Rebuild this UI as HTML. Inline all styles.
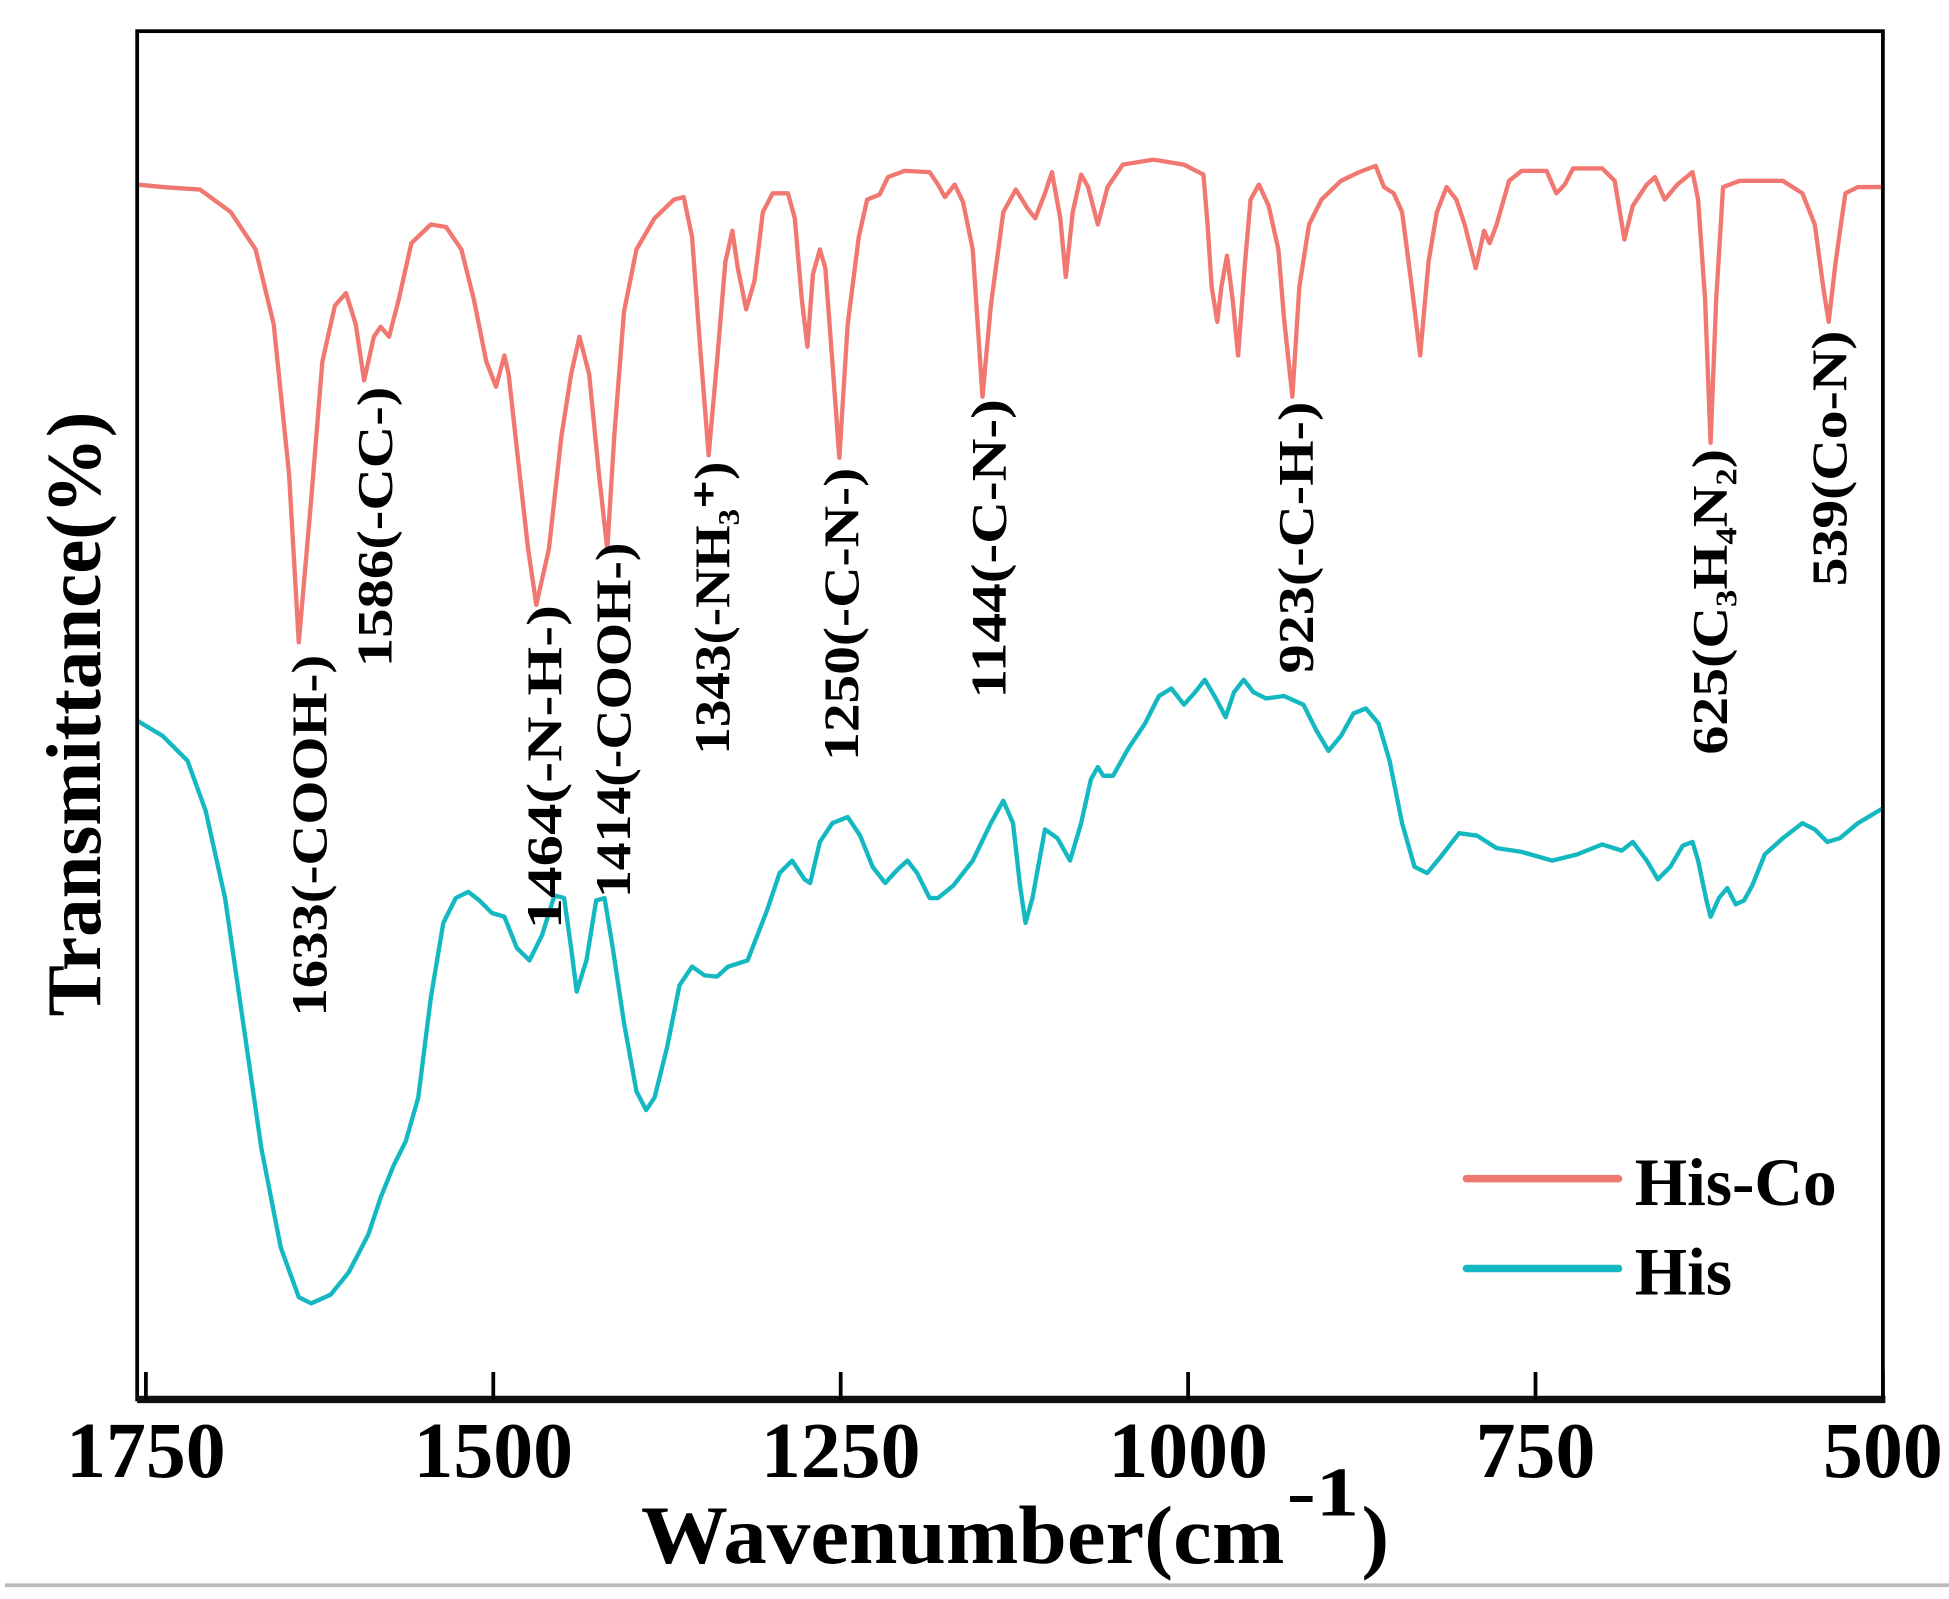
<!DOCTYPE html>
<html><head><meta charset="utf-8"><style>
html,body{margin:0;padding:0;background:#fff;}
svg{display:block;}
text{font-family:"Liberation Serif",serif;font-weight:bold;fill:#000;}
</style></head><body>
<svg id="chart" width="1949" height="1599" viewBox="0 0 1563 1282" preserveAspectRatio="none" xmlns="http://www.w3.org/2000/svg">
<g id="plot"></g>
<rect x="110" y="25" width="1400" height="1097" fill="none" stroke="#000" stroke-width="3"/>
<line x1="110" y1="1122" x2="1512" y2="1122" stroke="#111" stroke-width="6"/>
<g id="ticks"></g>
<text x="514" y="1253" font-size="66" textLength="516" lengthAdjust="spacingAndGlyphs">Wavenumber(cm</text>
<text x="1032" y="1215" font-size="56" textLength="58" lengthAdjust="spacingAndGlyphs">-1</text>
<text x="1092" y="1253" font-size="66">)</text>
<text transform="translate(80,815) rotate(-90)" font-size="62" textLength="485" lengthAdjust="spacingAndGlyphs">Transmittance(%)</text>
<g id="annots"></g>
<line x1="1176" y1="945" x2="1298" y2="945" stroke="#f07870" stroke-width="6" stroke-linecap="round"/>
<text x="1311" y="966" font-size="54">His-Co</text>
<line x1="1176" y1="1017" x2="1298" y2="1017" stroke="#14b8c0" stroke-width="6" stroke-linecap="round"/>
<text x="1311" y="1038" font-size="54">His</text>
<line x1="4" y1="1271" x2="1563" y2="1271" stroke="#bbb" stroke-width="3"/>
</svg>
<script>
const tickValues = [1750, 1500, 1250, 1000, 750, 500];
const tickLabels = ["1750", "1500", "1250", "1000", "750", "500"];
const hisCoWave = [1756,1738,1711,1689,1671,1658,1647,1640,1631,1623,1614,1606,1599,1593,1586,1581,1575,1568,1559,1545,1534,1523,1514,1505,1498,1492,1489,1483,1475,1469,1460,1451,1444,1438,1431,1424,1418,1413,1406,1397,1384,1370,1363,1357,1351,1345,1339,1333,1328,1324,1318,1312,1306,1299,1288,1283,1278,1274,1270,1265,1261,1256,1251,1245,1237,1231,1222,1216,1204,1186,1180,1175,1168,1162,1155,1148,1142,1133,1124,1115,1110,1103,1098,1092,1088,1083,1077,1072,1065,1058,1047,1025,1003,989,986,983,979,976,972,968,964,959,955,949,942,935,931,925,920,913,904,890,877,865,859,852,846,839,833,827,821,814,807,801,793,787,783,778,769,760,742,735,729,723,702,693,686,680,670,664,657,648,637,633,628,624,620,615,603,572,558,549,543,539,534,527,518,500];
const hisCoT = [97.4,97.2,97.0,95.2,92.2,86.2,74.2,60.7,72.2,83.2,87.7,88.7,86.2,81.7,85.2,86.0,85.2,88.2,92.7,94.2,94.0,92.2,88.2,83.2,81.2,83.7,82.2,76.2,68.2,63.7,68.2,77.2,82.2,85.2,82.2,74.2,68.2,77.2,87.2,92.2,94.7,96.2,96.4,93.2,84.2,75.7,83.2,91.2,93.7,90.7,87.4,89.7,95.2,96.7,96.7,94.7,88.2,84.4,90.2,92.2,90.7,83.2,75.5,86.2,93.2,96.2,96.6,98.0,98.5,98.4,97.4,96.4,97.4,96.0,92.2,80.4,87.7,95.2,97.0,95.4,94.7,96.7,98.4,94.7,90.0,95.2,98.2,97.2,94.2,97.2,99.0,99.4,99.0,98.2,94.2,89.2,86.4,89.2,91.7,88.2,83.7,91.2,96.2,97.4,95.7,92.2,86.7,80.4,89.2,94.2,96.2,97.7,98.4,98.9,97.2,96.7,95.2,89.2,83.7,91.2,95.2,97.2,96.2,94.2,90.7,93.7,92.7,94.2,97.7,98.5,98.5,96.7,97.4,98.7,98.7,97.7,93.0,95.7,97.4,98.0,96.2,97.4,98.4,96.2,88.2,76.7,88.2,97.2,97.7,97.7,96.7,94.2,89.2,86.4,91.2,96.7,97.2,97.2];
const hisWave = [1756,1738,1720,1707,1693,1680,1667,1653,1640,1631,1617,1604,1590,1581,1572,1563,1554,1545,1536,1527,1518,1510,1501,1492,1483,1474,1465,1456,1449,1444,1440,1433,1426,1420,1414,1406,1397,1390,1384,1375,1366,1357,1348,1339,1331,1317,1303,1294,1285,1276,1272,1265,1256,1245,1236,1227,1218,1209,1202,1195,1186,1180,1169,1155,1142,1133,1126,1121,1117,1112,1103,1094,1085,1077,1070,1065,1061,1054,1043,1031,1021,1012,1003,995,988,980,973,967,960,953,944,931,917,908,899,890,881,872,863,855,846,837,828,819,805,792,778,760,738,720,702,688,680,670,662,653,644,637,633,627,624,618,612,606,600,594,585,572,558,549,540,531,518,500];
const hisT = [54.4,53.2,51.2,47.2,40.2,30.2,20.2,12.2,8.2,7.7,8.4,10.2,13.2,16.2,18.7,20.7,24.2,32.2,38.2,40.2,40.7,40.0,39.0,38.7,36.2,35.2,37.2,40.4,40.2,36.2,32.7,35.2,40.0,40.2,36.2,30.2,24.7,23.2,24.2,28.2,33.2,34.7,34.0,33.9,34.7,35.2,39.2,42.2,43.2,41.7,41.4,44.7,46.2,46.7,45.2,42.7,41.4,42.5,43.2,42.2,40.2,40.2,41.2,43.2,46.2,48.0,46.2,41.2,38.2,40.2,45.7,45.0,43.2,46.2,49.7,50.7,50.0,50.0,52.2,54.2,56.4,57.0,55.7,56.7,57.7,56.2,54.7,56.7,57.7,56.7,56.2,56.4,55.7,53.7,52.0,53.2,55.0,55.4,54.2,51.2,46.2,42.7,42.2,43.4,45.4,45.2,44.2,43.9,43.2,43.7,44.5,44.0,44.7,43.2,41.7,42.7,44.4,44.7,43.2,40.0,38.7,40.2,41.0,39.7,40.0,41.2,43.7,45.0,46.2,45.7,44.7,45.0,46.2,47.4];
const peakWaves = [1633, 1586, 1464, 1414, 1343, 1250, 1144, 923, 625, 539];
const peakLabels = ["1633(-COOH-)", "1586(-CC-)", "1464(-N-H-)", "1414(-COOH-)", "1343(-NH\u2083\u207A)", "1250(-C-N-)", "1144(-C-N-)", "923(-C-H-)", "625(C\u2083H\u2084N\u2082)", "539(Co-N)"];
const peakLabelTop = [59.7, 81.2, 63.7, 68.7, 75.2, 74.7, 80.2, 80.0, 76.2, 85.7];
const peakLabelBottom = [30.7, 58.7, 37.7, 40.2, 51.7, 51.2, 56.2, 58.2, 51.7, 65.2];

const NS = "http://www.w3.org/2000/svg";
function xs(w){ return 117 + (1750 - w) * 1.1144; }
function ys(v){ return 1122 - v * 10; }

const plot = document.getElementById('plot');
function drawSeries(wave, vals, color, name){
  const p = document.createElementNS(NS, 'polyline');
  p.setAttribute('points', wave.map((w,i)=> xs(w).toFixed(1)+','+ys(vals[i]).toFixed(1)).join(' '));
  p.setAttribute('fill','none');
  p.setAttribute('stroke',color);
  p.setAttribute('stroke-width','3.5');
  p.setAttribute('stroke-linejoin','round');
  
  
  plot.appendChild(p);
}
drawSeries(hisWave, hisT, '#14b8c0', 'his-series-line');
drawSeries(hisCoWave, hisCoT, '#f07870', 'his-co-series-line');

const ticks = document.getElementById('ticks');
tickValues.forEach((t,i)=>{
  const l = document.createElementNS(NS,'line');
  l.setAttribute('x1', xs(t)); l.setAttribute('x2', xs(t));
  l.setAttribute('y1', 1100); l.setAttribute('y2', 1122);
  l.setAttribute('stroke','#000'); l.setAttribute('stroke-width','3');
  
  
  ticks.appendChild(l);
  const tx = document.createElementNS(NS,'text');
  tx.setAttribute('x', xs(t)); tx.setAttribute('y', 1184);
  tx.setAttribute('text-anchor','middle');
  tx.setAttribute('font-size','64');
  tx.textContent = tickLabels[i];
  
  
  ticks.appendChild(tx);
});

const annots = document.getElementById('annots');
peakWaves.forEach((w,i)=>{
  const top = ys(peakLabelTop[i]), bot = ys(peakLabelBottom[i]);
  const t = document.createElementNS(NS,'text');
  t.setAttribute('transform', 'translate(' + (xs(w)+14).toFixed(1) + ',' + bot.toFixed(1) + ') rotate(-90)');
  t.setAttribute('font-size','40');
  t.setAttribute('textLength', (bot-top).toFixed(1));
  t.setAttribute('lengthAdjust','spacingAndGlyphs');
  t.textContent = peakLabels[i];
  
  
  annots.appendChild(t);
});
</script>
</body></html>
